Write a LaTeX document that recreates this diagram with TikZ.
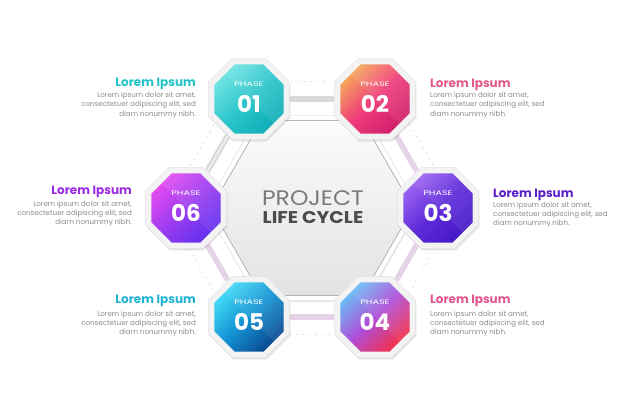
\documentclass[tikz,border=0pt]{standalone}
\usepackage{fontspec}
\setmainfont{Poppins}
\newfontfamily\phasefont[FakeStretch=1.45]{Poppins}
\newfontfamily\widefont[FakeStretch=1.12]{Poppins}
\usetikzlibrary{shapes.geometric,shadows,backgrounds}
\definecolor{rimgray}{HTML}{F3F3F3}
\definecolor{rimline}{HTML}{E2E2E2}
\definecolor{bandgray}{HTML}{D9D9D9}
\definecolor{bandlight}{HTML}{EDEDED}
\definecolor{bandlav}{HTML}{E5D3E7}
\definecolor{dotgray}{HTML}{CFCFCF}
\definecolor{bodygray}{HTML}{8C8C8C}
\definecolor{hubtop}{HTML}{FBFBFB}
\definecolor{hubbot}{HTML}{E3E3E3}
\definecolor{hubline}{HTML}{B4B4B4}
\definecolor{hdA}{HTML}{22C4C9}
\definecolor{hdB}{HTML}{E2588A}
\definecolor{hdC}{HTML}{5A20C8}
\definecolor{hdD}{HTML}{E2558C}
\definecolor{hdE}{HTML}{1FB3D6}
\definecolor{hdF}{HTML}{9A2BE0}
\definecolor{aL}{HTML}{6FE4E4}\definecolor{aR}{HTML}{0FAEB7}\definecolor{aM}{HTML}{2CC6CC}
\definecolor{bL}{HTML}{F7A35C}\definecolor{bR}{HTML}{D21F6C}\definecolor{bM}{HTML}{EE3C7B}
\definecolor{cL}{HTML}{9A62F0}\definecolor{cR}{HTML}{4618C6}\definecolor{cM}{HTML}{5F2BDA}
\definecolor{dL}{HTML}{6CB9F3}\definecolor{dR}{HTML}{F2314C}\definecolor{dM}{HTML}{B04DD8}
\definecolor{eL}{HTML}{3FD8F6}\definecolor{eR}{HTML}{0A4A92}\definecolor{eM}{HTML}{1392D2}
\definecolor{fL}{HTML}{E24BF0}\definecolor{fR}{HTML}{6430F0}\definecolor{fM}{HTML}{9B3CF0}
\begin{document}
\begin{tikzpicture}[x=1pt,y=-1pt,
  rim/.style={regular polygon, regular polygon sides=8, minimum size=88pt, inner sep=0pt,
    fill=rimgray, draw=rimline, line width=0.6pt,
    drop shadow={shadow xshift=0.8pt, shadow yshift=-1.8pt, opacity=0.22}},
  oct/.style={regular polygon, regular polygon sides=8, minimum size=75pt, inner sep=0pt,
    path picture={\fill[white,opacity=0.08] (path picture bounding box.north east) --
      (path picture bounding box.north west) -- (path picture bounding box.south east) -- cycle;}},
  phaselbl/.style={anchor=base, inner sep=0pt, text=white, font=\phasefont\fontsize{6.6}{7}\selectfont},
  numlbl/.style={anchor=base, inner sep=0pt, text=white, font=\bfseries\fontsize{23}{24}\selectfont},
  head/.style={inner sep=0pt, font=\bfseries\fontsize{12}{13}\selectfont},
  bodyR/.style={anchor=north east, inner sep=0pt, align=right, text=bodygray, font=\fontsize{7.1}{9.3}\selectfont},
  bodyL/.style={anchor=north west, inner sep=0pt, align=left, text=bodygray, font=\fontsize{7.1}{9.3}\selectfont},
  grayband/.style={draw=bandgray, line width=6pt},
  grayinner/.style={draw=bandlight, line width=2pt},
  lavband/.style={draw=bandlav, line width=5.5pt},
  dotline/.style={draw=dotgray, line width=1.3pt, line cap=round, dash pattern=on 0pt off 6.5pt}
]
\useasboundingbox (0,0) rectangle (626,417);

% central hexagon
\node[regular polygon, regular polygon sides=6, minimum size=214pt, inner sep=0pt,
  fill=white, draw=rimline, line width=0.6pt,
  drop shadow={shadow xshift=0.6pt, shadow yshift=-1.5pt, opacity=0.18}] (hubrim) at (312,208) {};
\node[regular polygon, regular polygon sides=6, minimum size=202pt, inner sep=0pt,
  top color=hubtop, bottom color=hubbot, draw=hubline, line width=0.8pt] (hub) at (312,208) {};
\node[anchor=base, inner sep=0pt, text=black!52, font=\widefont\fontsize{21}{22}\selectfont] (proj) at (313,205.5) {PROJECT};
\node[anchor=base, inner sep=0pt, text=black!70, font=\widefont\bfseries\fontsize{17}{18}\selectfont] (life) at (313,223.3) {LIFE CYCLE};

% octagon rims
\node[rim] (r1) at (249,99) {};
\node[rim] (r2) at (375,99) {};
\node[rim] (r3) at (438,208) {};
\node[rim] (r4) at (375,317) {};
\node[rim] (r5) at (249,317) {};
\node[rim] (r6) at (186,208) {};

% coloured octagons (diagonal gradient, top-left to bottom-right)
\node[oct, top color=aL, bottom color=aR, middle color=aM, shading angle=45] (p1) at (r1.center) {};
\node[oct, top color=bL, bottom color=bR, middle color=bM, shading angle=45] (p2) at (r2.center) {};
\node[oct, top color=cL, bottom color=cR, middle color=cM, shading angle=45] (p3) at (r3.center) {};
\node[oct, top color=dL, bottom color=dR, middle color=dM, shading angle=45] (p4) at (r4.center) {};
\node[oct, top color=eL, bottom color=eR, middle color=eM, shading angle=45] (p5) at (r5.center) {};
\node[oct, top color=fL, bottom color=fR, middle color=fM, shading angle=45] (p6) at (r6.center) {};

% phase labels
\foreach \i/\n in {1/01,2/02,3/03,4/04,5/05,6/06}{
  \node[phaselbl] (ph\i) at ([yshift=12.3pt]p\i.center) {PHASE};
  \node[numlbl] (nm\i) at ([yshift=-13.3pt]p\i.center) {\n};
}

% connectors and dotted frame behind
\begin{pgfonlayer}{background}
  \fill[white] (0,0) rectangle (626,417);
  \draw[dotline, shift={(312,208)}] (0:146) -- (60:146) -- (120:146) -- (180:146) -- (240:146) -- (300:146) -- cycle;
  \draw[grayband] (r1) -- (r2);
  \draw[grayband] (r6) -- (r1);
  \draw[grayinner] (r6) -- (r1);
  \draw[lavband] (r2) -- (r3);
  \draw[lavband] (r3) -- (r4);
  \draw[lavband] (r4) -- (r5);
  \draw[lavband] (r5) -- (r6);
\end{pgfonlayer}

% text blocks
\node[head, anchor=base east, text=hdA] (h1) at (196,86.5) {Lorem Ipsum};
\node[bodyR] (b1) at (196,92) {Lorem ipsum dolor sit amet,\\consectetuer adipiscing elit, sed\\diam nonummy nibh.};
\node[head, anchor=base west, text=hdB] (h2) at (430,87.5) {Lorem Ipsum};
\node[bodyL] (b2) at (430,92) {Lorem ipsum dolor sit amet,\\consectetuer adipiscing elit, sed\\diam nonummy nibh.};
\node[head, anchor=base east, text=hdF] (h6) at (132,194.5) {Lorem Ipsum};
\node[bodyR] (b6) at (132,200.5) {Lorem ipsum dolor sit amet,\\consectetuer adipiscing elit, sed\\diam nonummy nibh.};
\node[head, anchor=base west, text=hdC] (h3) at (493,197.5) {Lorem Ipsum};
\node[bodyL] (b3) at (493,201.5) {Lorem ipsum dolor sit amet,\\consectetuer adipiscing elit, sed\\diam nonummy nibh.};
\node[head, anchor=base east, text=hdE] (h5) at (196,303.5) {Lorem Ipsum};
\node[bodyR] (b5) at (196,310.5) {Lorem ipsum dolor sit amet,\\consectetuer adipiscing elit, sed\\diam nonummy nibh.};
\node[head, anchor=base west, text=hdD] (h4) at (430,303.5) {Lorem Ipsum};
\node[bodyL] (b4) at (430,310.5) {Lorem ipsum dolor sit amet,\\consectetuer adipiscing elit, sed\\diam nonummy nibh.};
\end{tikzpicture}
\end{document}
